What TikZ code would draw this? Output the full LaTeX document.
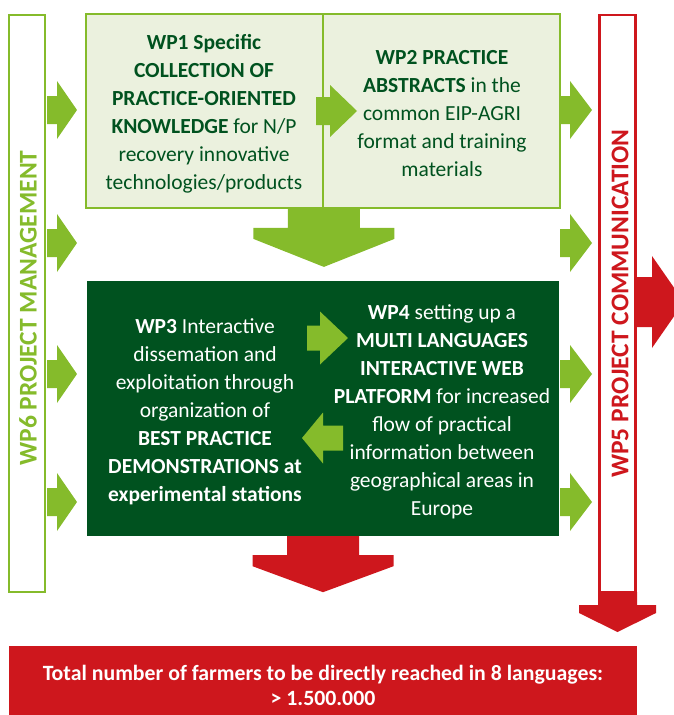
\documentclass[tikz,border=0pt]{standalone}
\usepackage{fontspec}
\setmainfont{Carlito}
\definecolor{leaf}{HTML}{85BB2B}
\definecolor{boxfill}{HTML}{EBF1DE}
\definecolor{forest}{HTML}{00521F}
\definecolor{wpred}{HTML}{CE171D}

\tikzset{
  % block arrow pointing along +x: length, head length, neck, shaft half width, head half width
  pics/blockarrow/.style n args={5}{code={
    \fill (0,-#4) -- ({#1-#2},-#4) -- ({#1-#2},-#5) -- ({#1-#2+#3},-#5) -- (#1,0)
      -- ({#1-#2+#3},#5) -- ({#1-#2},#5) -- ({#1-#2},#4) -- (0,#4) -- cycle;
  }},
  sidebar/.style={line width=2.5pt, fill=white, minimum width=36pt, minimum height=577pt, inner sep=0pt},
  lightbox/.style={draw=leaf, line width=1.8pt, fill=boxfill, minimum width=237pt, minimum height=194pt, inner sep=0pt},
  wptext/.style={align=center, font=\fontsize{21.5}{28}\selectfont},
  barlabel/.style={rotate=90, font=\bfseries\fontsize{25.5}{30}\selectfont},
}

\begin{document}
\begin{tikzpicture}[x=1pt, y=-1pt]
  \useasboundingbox (0,0) rectangle (673,715);

  % management and communication bars
  \node[sidebar, draw=leaf] (wp6bar) at (27,303.5) {};
  \node[barlabel, text=leaf] at (28,308) {WP6 PROJECT MANAGEMENT};
  \node[sidebar, draw=wpred] (wp5bar) at (617.5,303.5) {};
  \node[barlabel, text=wpred] at (620,303.5) {WP5 PROJECT COMMUNICATION};

  % upper boxes
  \node[lightbox] (wp1) at (204.5,111) {};
  \node[lightbox] (wp2) at (441.5,111) {};
  \node[wptext, text=forest] (wp1text) at (204,114)
    {\textbf{WP1 Specific}\\ \textbf{COLLECTION OF}\\ \textbf{PRACTICE-ORIENTED}\\
     \textbf{KNOWLEDGE} for N/P\\ recovery innovative\\ technologies/products};
  \node[wptext, text=forest] (wp2text) at (442,114)
    {\textbf{WP2 PRACTICE}\\ \textbf{ABSTRACTS} in the\\ common EIP-AGRI\\
     format and training\\ materials};
  \pic[fill=leaf] at (316,111) {blockarrow={41}{27}{0}{14}{26}};
  \pic[fill=leaf, rotate=-90] at (wp1.south east) {blockarrow={58}{39}{11}{36}{70.5}};

  % dissemination box
  \node[fill=forest, minimum width=472pt, minimum height=255pt, inner sep=0pt] (wp34) at (323,408.5) {};
  \node[wptext, text=white] (wp3text) at (205,412)
    {\textbf{WP3} Interactive\\ dissemation and\\ exploitation through\\ organization of\\
     \textbf{BEST PRACTICE}\\ \textbf{DEMONSTRATIONS at}\\ \textbf{experimental stations}};
  \node[wptext, text=white] (wp4text) at (442,412)
    {\textbf{WP4} setting up a\\ \textbf{MULTI LANGUAGES}\\ \textbf{INTERACTIVE WEB}\\
     \textbf{PLATFORM} for increased\\ flow of practical\\ information between\\
     geographical areas in\\ Europe};
  \pic[fill=leaf] at (307,338) {blockarrow={41}{28}{0}{12.5}{26.5}};
  \pic[fill=leaf, rotate=180] at (343,438) {blockarrow={41}{21}{0}{12.5}{25.5}};

  % side arrows
  \foreach \y in {110,243,374,502} {
    \pic[fill=leaf] at (47,\y) {blockarrow={30}{20}{0}{14}{29}};
    \pic[fill=leaf] at (560,\y) {blockarrow={32}{22}{0}{14}{29}};
  }

  % red outputs
  \pic[fill=wpred, rotate=-90] at (wp34.south) {blockarrow={56}{37}{11}{36}{70.5}};
  \pic[fill=wpred, rotate=-90] at (617.5,592) {blockarrow={40}{27}{8}{19.5}{38.5}};
  \pic[fill=wpred] at (637,302) {blockarrow={47}{32}{0}{25}{46}};

  \node[fill=wpred, minimum width=628pt, minimum height=69pt, inner sep=0pt] (total) at (323,680.5) {};
  \node[wptext, text=white, font=\bfseries\fontsize{21.8}{25}\selectfont] (totaltext) at (323,685)
    {Total number of farmers to be directly reached in 8 languages:\\ > 1.500.000};
\end{tikzpicture}
\end{document}
